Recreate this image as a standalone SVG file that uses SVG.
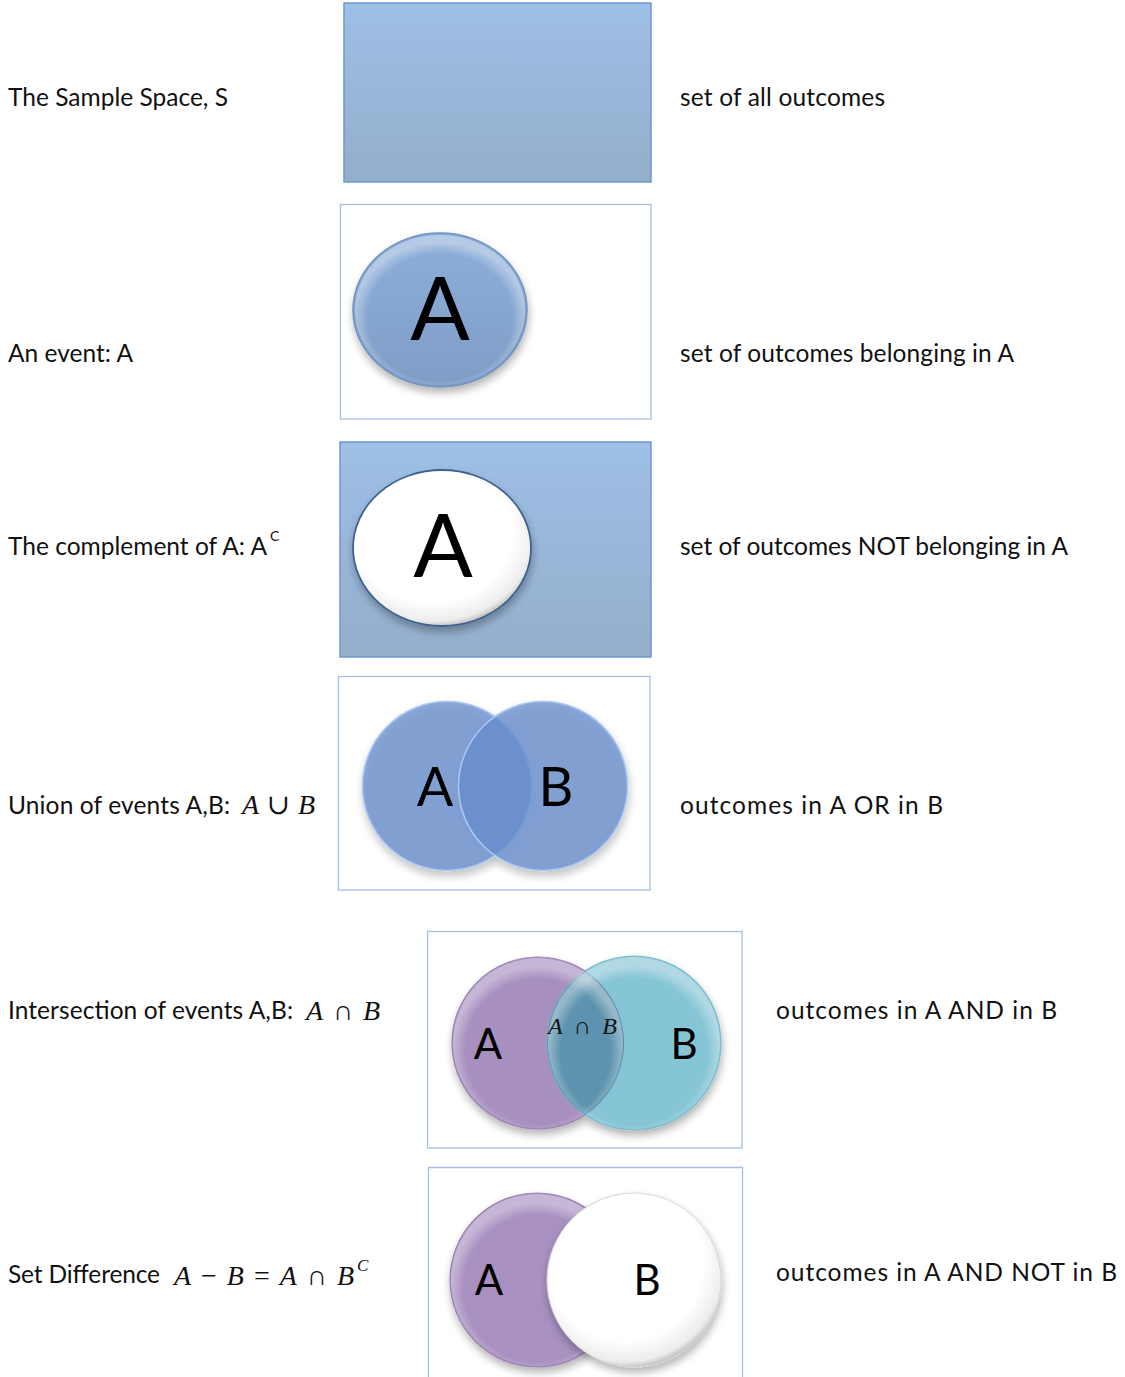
<svg xmlns="http://www.w3.org/2000/svg" width="1125" height="1377" viewBox="0 0 1125 1377">
  <style>
    .lbl { font-family: Lato, "Liberation Sans", sans-serif; font-size: 24.5px; fill: #111; }
    .math { font-family: "Liberation Serif", "DejaVu Serif", serif; font-size: 28px; fill: #111; }
    .it { font-style: italic; }
    .big { font-family: Lato, "Liberation Sans", sans-serif; fill: #000; text-anchor: middle; }
    .frame { fill: #fff; stroke: #a7bfe3; stroke-width: 1.3; }
    .space { fill: url(#spaceGrad); stroke: #6f98cd; stroke-width: 1.5; }
  </style>
  <defs>
    <linearGradient id="spaceGrad" x1="0" y1="0" x2="0" y2="1">
      <stop offset="0" stop-color="#9ebfe7"/>
      <stop offset="1" stop-color="#94aecb"/>
    </linearGradient>
    <linearGradient id="blueEll" x1="0" y1="0" x2="0" y2="1">
      <stop offset="0" stop-color="#8dafda"/>
      <stop offset="1" stop-color="#7e9dc6"/>
    </linearGradient>
    <radialGradient id="whiteBall" cx="0.45" cy="0.4" r="0.6">
      <stop offset="0.75" stop-color="#ffffff"/>
      <stop offset="0.95" stop-color="#ececec"/>
      <stop offset="1" stop-color="#c9c9c9"/>
    </radialGradient>
    <radialGradient id="rimLight" cx="0.5" cy="0.55" r="0.5">
      <stop offset="0.85" stop-color="#ffffff" stop-opacity="0"/>
      <stop offset="1" stop-color="#ffffff" stop-opacity="0.35"/>
    </radialGradient>
    <filter id="shadow" x="-20%" y="-20%" width="140%" height="150%">
      <feGaussianBlur in="SourceAlpha" stdDeviation="4"/>
      <feOffset dx="1" dy="5" result="off"/>
      <feComponentTransfer><feFuncA type="linear" slope="0.3"/></feComponentTransfer>
      <feMerge><feMergeNode/><feMergeNode in="SourceGraphic"/></feMerge>
    </filter>
  </defs>

  <!-- row 1: sample space -->
  <g id="sample-space">
    <text class="lbl" x="8" y="106" textLength="220" lengthAdjust="spacing">The Sample Space, S</text>
    <rect class="space" x="344" y="3" width="307" height="179"/>
    <text class="lbl" x="680" y="106" textLength="205" lengthAdjust="spacing">set of all outcomes</text>
  </g>

  <!-- row 2: event A -->
  <g id="event-a">
    <text class="lbl" x="8" y="362" textLength="125" lengthAdjust="spacing">An event: A</text>
    <rect class="frame" x="340.5" y="204.5" width="310.5" height="214.5"/>
    <ellipse cx="440" cy="310" rx="87" ry="77" fill="url(#blueEll)" stroke="#7193bf" stroke-width="1.5" filter="url(#shadow)"/>
    <ellipse cx="440" cy="310" rx="85" ry="75" fill="url(#rimLight)"/>
    <text class="big" x="440" y="340" font-size="88">A</text>
    <text class="lbl" x="680" y="362" textLength="334" lengthAdjust="spacing">set of outcomes belonging in A</text>
  </g>

  <!-- row 3: complement -->
  <g id="complement">
    <text class="lbl" x="8" y="555" textLength="259" lengthAdjust="spacing">The complement of A: A</text>
    <text class="lbl" x="270" y="541" style="font-size:14px">C</text>
    <rect class="space" x="340" y="442" width="311" height="215"/>
    <ellipse cx="442" cy="548" rx="89" ry="78" fill="url(#whiteBall)" stroke="#3e628f" stroke-width="1.8" filter="url(#shadow)"/>
    <text class="big" x="443" y="577" font-size="88">A</text>
    <text class="lbl" x="680" y="555" textLength="388" lengthAdjust="spacing">set of outcomes NOT belonging in A</text>
  </g>

  <!-- row 4: union -->
  <g id="union">
    <text class="lbl" x="8" y="814" textLength="222" lengthAdjust="spacing">Union of events A,B:</text>
    <text class="math" x="242" y="814" textLength="73" lengthAdjust="spacing"><tspan class="it">A</tspan> ∪ <tspan class="it">B</tspan></text>
    <rect class="frame" x="338.5" y="676.5" width="311.5" height="213.5"/>
    <g filter="url(#shadow)">
      <circle cx="447" cy="786" r="84.5" fill="#668ccc" fill-opacity="0.75" stroke="#a9c8f2" stroke-width="1.5"/>
      <circle cx="543" cy="786" r="84.5" fill="#668ccc" fill-opacity="0.75" stroke="#a9c8f2" stroke-width="1.5"/>
    </g>
    <text class="big" x="435" y="806" font-size="54">A</text>
    <text class="big" x="556" y="806" font-size="54">B</text>
    <text class="lbl" x="680" y="814" textLength="263" lengthAdjust="spacing">outcomes in A OR in B</text>
  </g>

  <!-- row 5: intersection -->
  <g id="intersection">
    <text class="lbl" x="8" y="1019" textLength="285" lengthAdjust="spacing">Intersection of events A,B:</text>
    <text class="math" x="306" y="1020" textLength="74" lengthAdjust="spacing"><tspan class="it">A</tspan> ∩ <tspan class="it">B</tspan></text>
    <rect class="frame" x="427.5" y="931.5" width="314.5" height="216.5"/>
    <g filter="url(#shadow)">
      <circle cx="538" cy="1043" r="86" fill="#a78fbf" stroke="#9a84b3" stroke-width="1.2"/>
      <circle cx="634" cy="1043" r="87" fill="#86c5d5" stroke="#7bbccd" stroke-width="1.2"/>
    </g>
    <path d="M585.1,971 A87,87 0 0 0 585.1,1115 A86,86 0 0 0 585.1,971 Z" fill="#5d93ae"/>
    <circle cx="538" cy="1043" r="85" fill="url(#rimLight)"/>
    <circle cx="634" cy="1043" r="86" fill="url(#rimLight)"/>
    <text class="math" x="548" y="1034" style="font-size:24px" textLength="69" lengthAdjust="spacing"><tspan class="it">A</tspan> ∩ <tspan class="it">B</tspan></text>
    <text class="big" x="488" y="1059" font-size="42">A</text>
    <text class="big" x="684" y="1059" font-size="42">B</text>
    <text class="lbl" x="776" y="1019" textLength="281" lengthAdjust="spacing">outcomes in A AND in B</text>
  </g>

  <!-- row 6: set difference -->
  <g id="difference">
    <text class="lbl" x="8" y="1283" textLength="152" lengthAdjust="spacing">Set Difference</text>
    <text class="math" x="174" y="1285" textLength="180" lengthAdjust="spacing"><tspan class="it">A</tspan> − <tspan class="it">B</tspan> = <tspan class="it">A</tspan> ∩ <tspan class="it">B</tspan></text>
    <text class="math it" x="357" y="1271" style="font-size:17px">C</text>
    <path d="M428.5,1377 V1167.5 H742.5 V1377" fill="#fff" stroke="#a7bfe3" stroke-width="1.3"/>
    <circle cx="537" cy="1280" r="87" fill="#a890c0" stroke="#9a84b3" stroke-width="1.2" filter="url(#shadow)"/>
    <circle cx="537" cy="1280" r="86" fill="url(#rimLight)"/>
    <circle cx="634" cy="1280" r="87" fill="url(#whiteBall)" stroke="#d4d4d4" stroke-width="1" filter="url(#shadow)"/>
    <text class="big" x="489" y="1295" font-size="42">A</text>
    <text class="big" x="647" y="1295" font-size="42">B</text>
    <text class="lbl" x="776" y="1281" textLength="341" lengthAdjust="spacing">outcomes in A AND NOT in B</text>
  </g>
</svg>
